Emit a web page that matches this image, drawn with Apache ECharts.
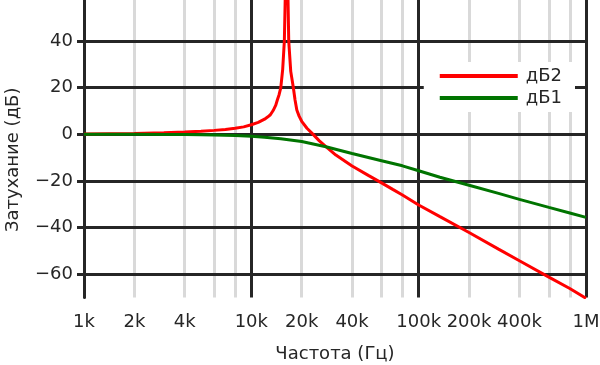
<!DOCTYPE html>
<html><head><meta charset="utf-8">
<script src="https://cdn.jsdelivr.net/npm/echarts@6/dist/echarts.min.js"></script>
<style>html,body{margin:0;padding:0;background:#fff}#c{width:600px;height:365px}</style>
</head><body><div id="c"></div>
<script>
const freqTicks = [1000, 2000, 4000, 10000, 20000, 40000, 100000, 200000, 400000, 1000000];
const freqTickLabels = ['1k', '2k', '4k', '10k', '20k', '40k', '100k', '200k', '400k', '1M'];
const minorGrid = [2000, 4000, 6000, 8000, 20000, 40000, 60000, 80000, 200000, 400000, 600000, 800000];
const dbTicks = [-60, -40, -20, 0, 20, 40];

const db2Freq = [1000, 2000, 3000, 4000, 5000, 6000, 7000, 8000, 9000, 10000, 11000, 12000, 12500, 13000, 13500, 14000, 14300, 14650, 15000, 15400, 15750, 16280, 16730, 17200, 17830, 18250, 18700, 19300, 20000, 21500, 23400, 25500, 27900, 32000, 40000, 50000, 60000, 70000, 80000, 100000, 134000, 200000, 300000, 400000, 600000, 800000, 1000000];
const db2Values = [0.1, 0.4, 0.7, 1.0, 1.3, 1.7, 2.1, 2.6, 3.2, 4.1, 5.1, 6.5, 7.4, 8.4, 10.2, 12.5, 14.7, 17.0, 20, 28, 40, 90, 40, 27, 20, 14.7, 10.4, 7.8, 5.6, 2.6, 0, -2.8, -5.3, -8.9, -13.6, -17.6, -20.8, -23.6, -26.0, -30.3, -35.3, -42.1, -49.2, -54.2, -61.2, -66.1, -70.3];

const db1Freq = [1000, 2000, 3000, 4000, 5000, 6000, 8000, 10000, 12000, 15000, 20000, 27900, 40000, 60000, 80000, 100000, 134000, 200000, 300000, 400000, 600000, 800000, 1000000];
const db1Values = [0, 0, -0.05, -0.1, -0.2, -0.3, -0.5, -0.8, -1.2, -1.9, -3.1, -5.3, -8.2, -11.3, -13.5, -15.6, -18.4, -21.8, -25.3, -27.9, -31.3, -33.7, -35.6];

const seriesNames = ['дБ2', 'дБ1'];
const xTitle = 'Частота (Гц)';
const yTitle = 'Затухание (дБ)';

const FONT = 'DejaVu Sans';
const DARK = '#262626';

function pairs(xs, ys) { return xs.map((x, i) => [x, ys[i]]); }
function freqLabel(v) {
  let best = 0, bd = Infinity;
  freqTicks.forEach((t, i) => { const d = Math.abs(Math.log10(t) - Math.log10(v)); if (d < bd) { bd = d; best = i; } });
  return bd < 0.01 ? freqTickLabels[best] : '';
}

const chart = echarts.init(document.getElementById('c'), null, { renderer: 'canvas' });
chart.setOption({
  animation: false,
  backgroundColor: '#ffffff',
  grid: { left: 84, right: 14, top: 0, bottom: 67.4, containLabel: false, outerBoundsMode: 'none' },
  legend: {
    orient: 'vertical', right: 25, top: 62,
    backgroundColor: '#ffffff', padding: [5, 13, 5, 16],
    itemWidth: 78, itemHeight: 4, itemGap: 4,
    icon: 'rect',
    textStyle: { fontFamily: FONT, fontSize: 18, color: DARK, padding: [0, 0, 0, 3] },
    data: seriesNames
  },
  xAxis: {
    type: 'log', logBase: 10, min: 1000, max: 1000000, z: 1,
    name: xTitle, nameLocation: 'middle', nameGap: 48,
    nameTextStyle: { fontFamily: FONT, fontSize: 18, color: DARK },
    axisLine: { show: false },
    axisTick: { show: true, length: 3, lineStyle: { color: DARK, width: 3 } },
    axisLabel: { customValues: freqTicks, formatter: freqLabel, fontFamily: FONT, fontSize: 18, color: DARK, margin: 16, showMinLabel: true, showMaxLabel: true },
    splitLine: { show: true, lineStyle: { color: DARK, width: 3 } },
    minorSplitLine: { show: false }
  },
  yAxis: {
    type: 'value', min: -70, max: 57.6, z: 1,
    name: yTitle, nameLocation: 'middle', nameGap: 62,
    nameTextStyle: { fontFamily: FONT, fontSize: 18, color: DARK, padding: [0, 22, 0, 0] },
    axisLine: { show: true, lineStyle: { color: DARK, width: 3 } },
    axisTick: { show: true, length: 7, customValues: dbTicks, lineStyle: { color: DARK, width: 3 } },
    axisLabel: { customValues: dbTicks, fontFamily: FONT, fontSize: 18, color: DARK, margin: 11,
      formatter: v => v < 0 ? '\u2212' + Math.abs(v) : String(v) },
    splitLine: { show: true, lineStyle: { color: DARK, width: 3 } }
  },
  series: [
    {
      name: seriesNames[0], type: 'line', z: 2, data: pairs(db2Freq, db2Values),
      showSymbol: false, symbol: 'none', clip: true,
      lineStyle: { color: '#ff0000', width: 3 }, itemStyle: { color: '#ff0000' },
      markLine: {
        silent: true, symbol: ['none', 'none'], z: 0, animation: false,
        label: { show: false },
        lineStyle: { color: '#d9d9d9', width: 3, type: 'solid' },
        data: minorGrid.map(f => ({ xAxis: f }))
      }
    },
    {
      name: seriesNames[1], type: 'line', z: 2, data: pairs(db1Freq, db1Values),
      showSymbol: false, symbol: 'none', clip: true,
      lineStyle: { color: '#007400', width: 3 }, itemStyle: { color: '#007400' }
    }
  ]
});
</script></body></html>
